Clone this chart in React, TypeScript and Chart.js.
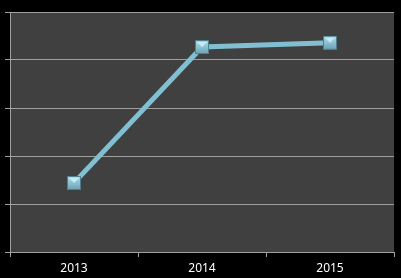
import React, { useEffect, useRef } from "react";
import { Chart, registerables } from "chart.js";

Chart.register(...registerables);

const categories = ["2013", "2014", "2015"];
const seriesValues = [144, 427, 436];
const yMin = 0;
const yMax = 500;
const yStep = 100;

function makeMarker(): HTMLCanvasElement {
  const s = 14;
  const c = document.createElement("canvas");
  c.width = s;
  c.height = s;
  const g = c.getContext("2d")!;
  g.fillStyle = "#4f7f8c";
  g.fillRect(0, 0, s, s);
  const grad = g.createLinearGradient(0, 1, 0, s - 1);
  grad.addColorStop(0, "#a9dbe9");
  grad.addColorStop(1, "#6ea7b7");
  g.fillStyle = grad;
  g.fillRect(1, 1, s - 2, s - 2);
  g.fillStyle = "#c4ebf6";
  g.beginPath();
  g.moveTo(2, 2);
  g.lineTo(s - 2, 2);
  g.lineTo(s / 2, s / 2);
  g.closePath();
  g.fill();
  return c;
}

const plotBg = {
  id: "plotBg",
  beforeDraw(chart: any) {
    const { ctx, chartArea } = chart;
    ctx.save();
    ctx.fillStyle = "#000000";
    ctx.fillRect(0, 0, chart.width, chart.height);
    ctx.fillStyle = "#404040";
    ctx.fillRect(chartArea.left, chartArea.top, chartArea.right - chartArea.left, chartArea.bottom - chartArea.top);
    ctx.restore();
  },
};

export default function App() {
  const ref = useRef<HTMLCanvasElement>(null);
  useEffect(() => {
    const marker = makeMarker();
    const chart = new Chart(ref.current!, {
      type: "line",
      data: {
        labels: categories,
        datasets: [
          {
            data: seriesValues,
            borderColor: "#80c0d2",
            borderWidth: 5,
            pointStyle: marker as any,
            pointRadius: 7,
            pointHoverRadius: 7,
            tension: 0,
          },
        ],
      },
      options: {
        animation: false,
        responsive: false,
        maintainAspectRatio: false,
        layout: { autoPadding: false, padding: { left: 5, right: 7, top: 12, bottom: 0 } },
        plugins: { legend: { display: false }, tooltip: { enabled: false } },
        scales: {
          x: {
            offset: true,
            afterFit(scale: any) {
              scale.paddingLeft = 0;
              scale.paddingRight = 0;
              scale.height = 26;
            },
            grid: {
              offset: true,
              drawOnChartArea: false,
              drawTicks: true,
              tickLength: 5,
              color: "#a0a0a0",
            },
            border: { color: "#a0a0a0" },
            ticks: {
              color: "#ffffff",
              padding: 4,
              font: { family: "'Noto Sans', sans-serif", size: 12 },
            },
          },
          y: {
            min: yMin,
            max: yMax,
            afterFit(scale: any) {
              scale.paddingTop = 0;
              scale.paddingBottom = 0;
            },
            grid: { color: "#a0a0a0", tickLength: 5 },
            border: { color: "#a0a0a0" },
            ticks: { display: false, stepSize: yStep },
          },
        },
      },
      plugins: [plotBg],
    });
    return () => chart.destroy();
  }, []);
  return (
    <div style={{ position: "fixed", left: 0, top: 0, width: 401, height: 278, background: "#000" }}>
      <canvas ref={ref} width={401} height={278} style={{ display: "block", width: 401, height: 278 }} />
    </div>
  );
}
